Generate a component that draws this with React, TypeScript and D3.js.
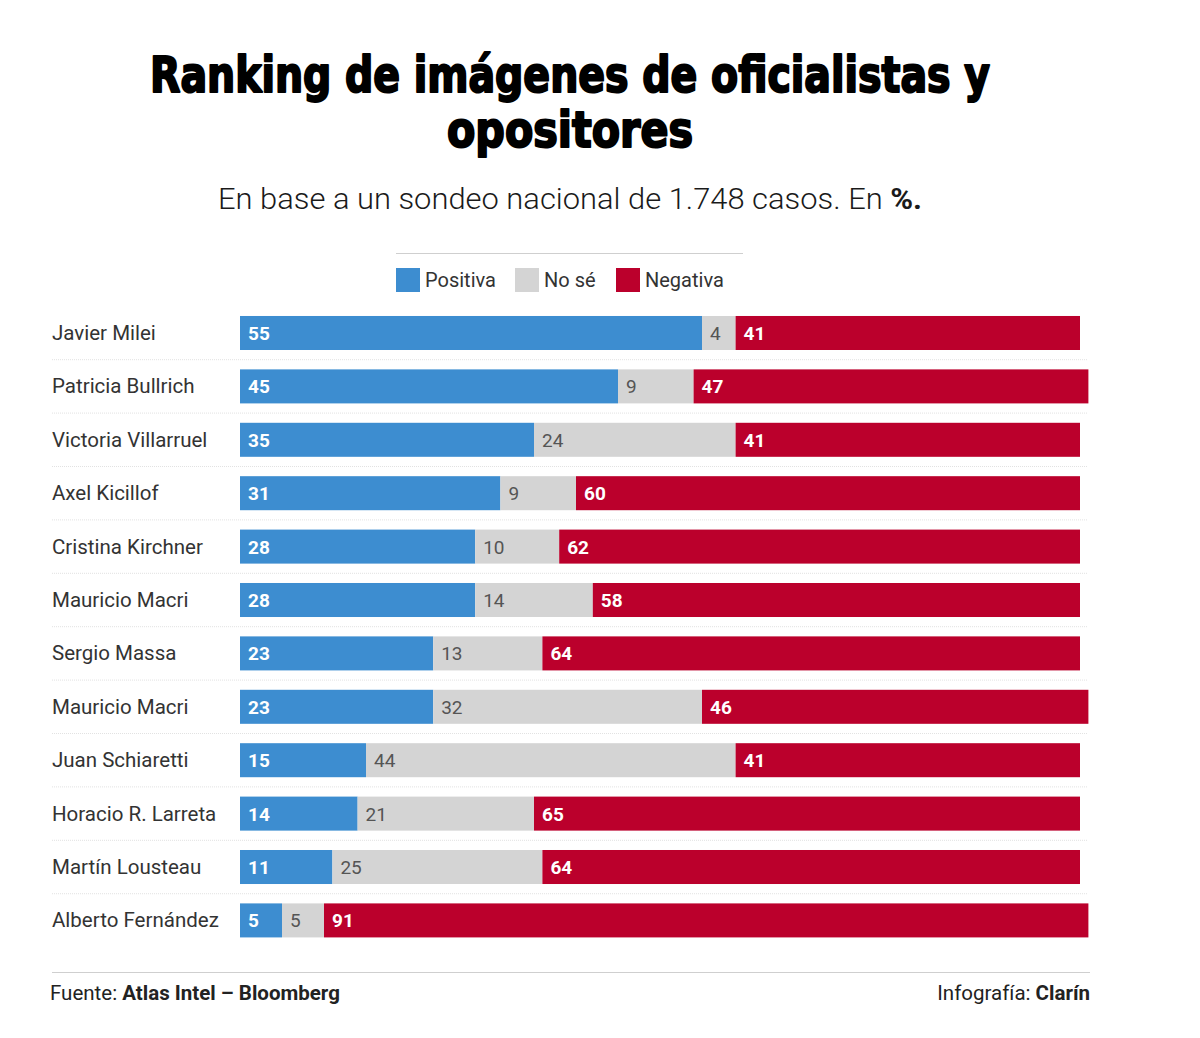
import * as d3 from "d3";

const names = [
  "Javier Milei",
  "Patricia Bullrich",
  "Victoria Villarruel",
  "Axel Kicillof",
  "Cristina Kirchner",
  "Mauricio Macri",
  "Sergio Massa",
  "Mauricio Macri",
  "Juan Schiaretti",
  "Horacio R. Larreta",
  "Martín Lousteau",
  "Alberto Fernández",
];
const positiva = [55, 45, 35, 31, 28, 28, 23, 23, 15, 14, 11, 5];
const noSe = [4, 9, 24, 9, 10, 14, 13, 32, 44, 21, 25, 5];
const negativa = [41, 47, 41, 60, 62, 58, 64, 46, 41, 65, 64, 91];

const seriesKeys = ["positiva", "noSe", "negativa"] as const;
const seriesLabels = ["Positiva", "No sé", "Negativa"];
const seriesColors = ["#3d8dd0", "#d4d4d4", "#bb002c"];
const seriesText = ["#ffffff", "#555555", "#ffffff"];

const width = 1200;
const height = 1038;
const sans = "Roboto, 'Open Sans', sans-serif";
const heavy = "'Liberation Sans Narrow', 'DejaVu Sans Condensed', sans-serif";

export default function App() {
  const rows = names.map((name, i) => ({
    name,
    index: i,
    positiva: positiva[i],
    noSe: noSe[i],
    negativa: negativa[i],
  }));

  const stacked = d3.stack<(typeof rows)[number]>().keys(seriesKeys as unknown as string[])(rows);

  const x = d3.scaleLinear().domain([0, 100]).range([240, 1080]);
  const y = d3
    .scaleBand<number>()
    .domain(rows.map((r) => r.index))
    .range([296.6, 296.6 + 660.2])
    .padding(0.363);
  const bw = y.bandwidth();
  const gap = y.step() - bw;

  return (
    <svg
      width={width}
      height={height}
      viewBox={`0 0 ${width} ${height}`}
      style={{ position: "absolute", left: 0, top: 0, background: "#fff" }}
    >
      {/* title */}
      <g fill="#000" stroke="#000" strokeWidth={2} strokeLinejoin="round" fontFamily={heavy} fontWeight={700} fontSize={50}>
        <text x={150} y={92} textLength={840} lengthAdjust="spacingAndGlyphs">
          Ranking de imágenes de oficialistas y
        </text>
        <text x={447} y={147} textLength={246} lengthAdjust="spacingAndGlyphs">
          opositores
        </text>
      </g>
      <text
        x={218}
        y={209}
        textLength={704}
        lengthAdjust="spacingAndGlyphs"
        fontFamily={sans}
        fontWeight={300}
        fontSize={30}
        fill="#1a1a1a"
      >
        En base a un sondeo nacional de 1.748 casos. En <tspan fontWeight={700}>%.</tspan>
      </text>

      {/* legend */}
      <line x1={396} x2={743} y1={253.5} y2={253.5} stroke="#cfcfcf" strokeWidth={1} />
      {[396, 515, 616].map((lx, k) => (
        <g key={seriesLabels[k]} transform={`translate(${lx}, 268)`}>
          <rect width={24} height={24} fill={seriesColors[k]} />
          <text x={29} y={19} fontFamily={sans} fontSize={20} fill="#333">
            {seriesLabels[k]}
          </text>
        </g>
      ))}

      {/* row separators */}
      {rows.slice(0, -1).map((r) => (
        <line
          key={`sep-${r.index}`}
          x1={52}
          x2={1088}
          y1={(y(r.index) ?? 0) + bw + gap / 2}
          y2={(y(r.index) ?? 0) + bw + gap / 2}
          stroke="#e2e2e2"
          strokeWidth={1}
          strokeDasharray="1 1"
        />
      ))}

      {/* names */}
      {rows.map((r) => (
        <text
          key={`name-${r.index}`}
          x={52}
          y={(y(r.index) ?? 0) + bw / 2 + 7}
          fontFamily={sans}
          fontSize={20.5}
          fill="#333"
        >
          {r.name}
        </text>
      ))}

      {/* stacked bars */}
      {stacked.map((layer, k) => (
        <g key={layer.key}>
          {layer.map((seg, i) => {
            const x0 = x(seg[0]);
            const x1 = x(seg[1]);
            const top = y(i) ?? 0;
            const value = seg[1] - seg[0];
            return (
              <g key={`${layer.key}-${i}`}>
                <rect x={x0} y={top} width={x1 - x0} height={bw} fill={seriesColors[k]} />
                <text
                  x={x0 + 8}
                  y={top + bw / 2 + 7}
                  fontFamily={sans}
                  fontSize={19}
                  fontWeight={k === 1 ? 400 : 700}
                  fill={seriesText[k]}
                >
                  {value}
                </text>
              </g>
            );
          })}
        </g>
      ))}

      {/* footer */}
      <line x1={52} x2={1090} y1={972.5} y2={972.5} stroke="#cfcfcf" strokeWidth={1} />
      <text x={50} y={1000} fontFamily={sans} fontSize={20.5} fill="#222">
        Fuente: <tspan fontWeight={700}>Atlas Intel – Bloomberg</tspan>
      </text>
      <text x={1090} y={1000} textAnchor="end" fontFamily={sans} fontSize={20.5} fill="#222">
        Infografía: <tspan fontWeight={700}>Clarín</tspan>
      </text>
    </svg>
  );
}
